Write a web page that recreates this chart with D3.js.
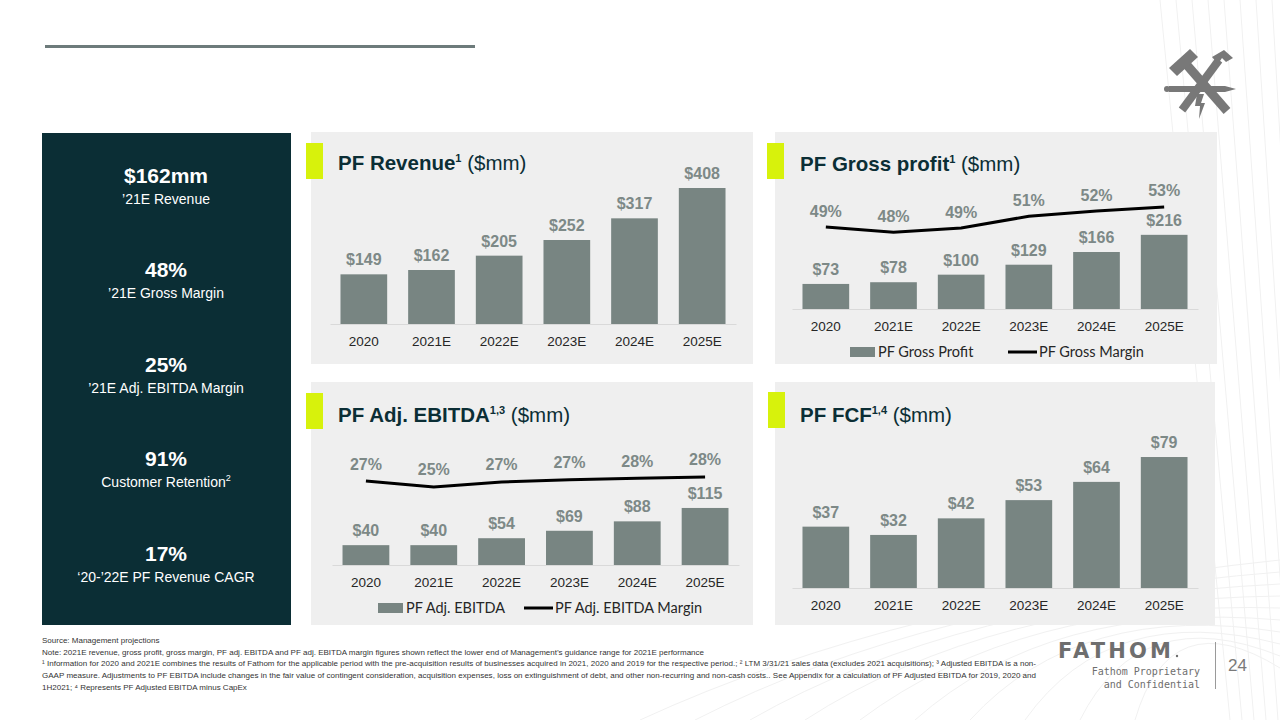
<!DOCTYPE html>
<html>
<head>
<meta charset="utf-8">
<script src="https://cdn.jsdelivr.net/npm/d3@7/dist/d3.min.js"></script>
<style>
  html, body { margin: 0; padding: 0; background: #ffffff; }
  svg { display: block; }
</style>
</head>
<body>
<svg id="chart" width="1280" height="720"></svg>
<script>
// ---------------- DATA ----------------
const years = ["2020", "2021E", "2022E", "2023E", "2024E", "2025E"];
const revenue = [149, 162, 205, 252, 317, 408];
const grossProfit = [73, 78, 100, 129, 166, 216];
const grossMargin = [49.2, 48.2, 49.0, 51.3, 52.3, 53.1];
const adjEbitda = [40, 40, 54, 69, 88, 115];
const adjEbitdaMargin = [26.9, 25.0, 26.6, 27.3, 27.8, 28.2];
const fcf = [37, 32, 42, 53, 64, 79];

const kpiValues = ["$162mm", "48%", "25%", "91%", "17%"];
const kpiLabels = ["\u201921E Revenue", "\u201921E Gross Margin", "\u201921E Adj. EBITDA Margin", "Customer Retention", "\u201820-\u201922E PF Revenue CAGR"];
const kpiSups = ["", "", "", "2", ""];

const footnotes = [
  "Source: Management projections",
  "Note: 2021E revenue, gross profit, gross margin, PF adj. EBITDA and PF adj. EBITDA margin figures shown reflect the lower end of Management\u2019s guidance range for 2021E performance",
  "\u00B9 Information for 2020 and 2021E combines the results of Fathom for the applicable period with the pre-acquisition results of businesses acquired in 2021, 2020 and 2019 for the respective period.;  \u00B2 LTM 3/31/21 sales data (excludes 2021 acquisitions); \u00B3 Adjusted EBITDA is a non-",
  "GAAP measure. Adjustments to PF EBITDA include changes in the fair value of contingent consideration, acquisition expenses, loss on extinguishment of debt, and other non-recurring and non-cash costs.. See Appendix for a calculation of PF Adjusted EBITDA for 2019, 2020 and",
  "1H2021; \u2074 Represents PF Adjusted EBITDA minus CapEx"
];

// ---------------- STYLE ----------------
const SANS = "'Liberation Sans', Arial, sans-serif";
const LEG = "Lato, 'Open Sans', sans-serif";
const DARK = "#0b2e35";
const BAR = "#788582";
const LABEL = "#7d8987";
const PANEL = "#efefef";
const ACCENT = "#d7f20c";

const svg = d3.select("#chart");

// faint background lines (decorative)
const deco = svg.append("g").attr("stroke", "#f1f1f1").attr("fill", "none").attr("stroke-width", 1);
for (let i = 0; i < 8; i++) {
  deco.append("path").attr("d", `M${1160 + i * 16},0 L${1230 + i * 12},720`);
}
for (let i = 0; i < 10; i++) {
  deco.append("path").attr("d", `M${640 + i * 55},720 Q${900 + i * 30},600 ${1280},${560 + i * 12}`);
}

// top rule
svg.append("rect").attr("x", 45).attr("y", 45).attr("width", 430).attr("height", 3).attr("fill", "#6d7b7b");

// tools icon
const icon = svg.append("g").attr("fill", "#787878").attr("stroke", "#787878");
icon.append("line").attr("x1", 1186).attr("y1", 64).attr("x2", 1227).attr("y2", 111).attr("stroke-width", 9);
icon.append("line").attr("x1", 1219).attr("y1", 60).attr("x2", 1182).attr("y2", 110).attr("stroke-width", 8);
icon.append("path").attr("stroke", "none").attr("d", "M1198,57 L1190,49 L1169,68 L1177,76 Z");
icon.append("path").attr("stroke", "none").attr("d", "M1212,57 L1224,50 L1233,58 L1226,62 L1222,58 L1218,64 Z");
icon.append("rect").attr("stroke", "none").attr("x", 1169).attr("y", 86).attr("width", 56).attr("height", 6);
icon.append("path").attr("stroke", "none").attr("d", "M1225,86 L1236,89 L1225,92 Z");
icon.append("circle").attr("stroke", "none").attr("cx", 1167).attr("cy", 89).attr("r", 3);
icon.append("path").attr("stroke", "none").attr("d", "M1197,94 L1204,94 L1201,103 L1205,103 L1199,119 L1200,106 L1195,106 Z");

// ---------------- KPI PANEL ----------------
svg.append("rect").attr("x", 42).attr("y", 133).attr("width", 249).attr("height", 492).attr("fill", DARK);
kpiValues.forEach((v, i) => {
  const by = 182.5 + i * 94.5;
  svg.append("text").attr("x", 166).attr("y", by).attr("text-anchor", "middle")
    .attr("font-family", SANS).attr("font-weight", "bold").attr("font-size", 21).attr("fill", "#ffffff").text(v);
  const t = svg.append("text").attr("x", 166).attr("y", by + 21).attr("text-anchor", "middle")
    .attr("font-family", SANS).attr("font-size", 14).attr("fill", "#ffffff").text(kpiLabels[i]);
  if (kpiSups[i]) t.append("tspan").attr("font-size", 9).attr("dy", -6).text(kpiSups[i]);
});

// ---------------- PANELS ----------------
function panel(x, y, w, h, ax, ay, titleBold, sup, titleRest, tx, ty) {
  svg.append("rect").attr("x", x).attr("y", y).attr("width", w).attr("height", h).attr("fill", PANEL);
  svg.append("rect").attr("x", ax).attr("y", ay).attr("width", 17).attr("height", 36).attr("fill", ACCENT);
  const t = svg.append("text").attr("x", tx).attr("y", ty).attr("font-family", SANS).attr("font-size", 20.5).attr("fill", DARK);
  t.append("tspan").attr("font-weight", "bold").text(titleBold);
  t.append("tspan").attr("font-size", 11).attr("font-weight", "bold").attr("dy", -8).text(sup);
  t.append("tspan").attr("dy", 8).text(" " + titleRest);
}
panel(311, 132, 442, 232, 306, 143, "PF Revenue", "1", "($mm)", 338, 170);
panel(775, 132, 442, 232, 767, 143, "PF Gross profit", "1", "($mm)", 800, 171);
panel(311, 382, 442, 243, 306, 393, "PF Adj. EBITDA", "1,3", "($mm)", 338, 422);
panel(775, 382, 440, 243, 768, 392, "PF FCF", "1,4", "($mm)", 800, 422);

// ---------------- CHARTS ----------------
function barChart(o) {
  const g = svg.append("g");
  const x = d3.scaleBand().domain(years).range(o.xRange).paddingInner(0.31).paddingOuter(0.155);
  const y = d3.scaleLinear().domain(o.yDomain).range(o.yRange);
  const bw = x.bandwidth();

  g.selectAll("rect.bar").data(o.values).join("rect")
    .attr("class", "bar")
    .attr("x", (d, i) => x(years[i]))
    .attr("y", d => y(d))
    .attr("width", bw)
    .attr("height", d => y(0) - y(d))
    .attr("fill", BAR);

  g.selectAll("text.val").data(o.values).join("text")
    .attr("class", "val")
    .attr("x", (d, i) => x(years[i]) + bw / 2)
    .attr("y", d => y(d) - 9)
    .attr("text-anchor", "middle")
    .attr("font-family", SANS).attr("font-weight", "bold").attr("font-size", 16)
    .attr("fill", LABEL)
    .text(d => "$" + d);

  const ax = g.append("g").attr("transform", `translate(0,${y(0)})`)
    .call(d3.axisBottom(x).tickSize(0).tickSizeOuter(0).tickPadding(12));
  ax.select(".domain").attr("stroke", "#d9d9d9").attr("stroke-width", 1);
  ax.selectAll("text").attr("font-family", SANS).attr("font-size", 13.5).attr("fill", "#262626");

  if (o.line) {
    const y2 = d3.scaleLinear().domain(o.lineDomain).range(o.lineRange);
    const line = d3.line().x((d, i) => x(years[i]) + bw / 2).y(d => y2(d));
    g.append("path").datum(o.line).attr("d", line)
      .attr("fill", "none").attr("stroke", "#000").attr("stroke-width", 3);
    g.selectAll("text.pct").data(o.line).join("text")
      .attr("class", "pct")
      .attr("x", (d, i) => x(years[i]) + bw / 2)
      .attr("y", d => y2(d) - o.pctOffset)
      .attr("text-anchor", "middle")
      .attr("font-family", SANS).attr("font-weight", "bold").attr("font-size", 16)
      .attr("fill", LABEL)
      .text(d => Math.round(d) + "%");
  }
  if (o.legend) {
    const L = o.legend;
    g.append("rect").attr("x", L.rx).attr("y", L.y - 5).attr("width", 25).attr("height", 10).attr("fill", BAR);
    g.append("text").attr("x", L.rx + 28).attr("y", L.y + 5).attr("font-family", LEG).attr("font-size", 14.5)
      .attr("fill", "#262626").text(L.barName);
    g.append("line").attr("x1", L.lx).attr("x2", L.lx + 29).attr("y1", L.y).attr("y2", L.y)
      .attr("stroke", "#000").attr("stroke-width", 3);
    g.append("text").attr("x", L.lx + 31).attr("y", L.y + 5).attr("font-family", LEG).attr("font-size", 14.5)
      .attr("fill", "#262626").text(L.lineName);
  }
}

barChart({ values: revenue, xRange: [330, 736], yDomain: [0, 450], yRange: [324, 174] });
barChart({ values: grossProfit, xRange: [792, 1198], yDomain: [0, 300], yRange: [309, 206],
  line: grossMargin, lineDomain: [40, 60], lineRange: [274.2, 171.6], pctOffset: 10.5,
  legend: { rx: 850, lx: 1008, y: 352, barName: "PF Gross Profit", lineName: "PF Gross Margin" } });
barChart({ values: adjEbitda, xRange: [332, 739], yDomain: [0, 150], yRange: [565, 490.6],
  line: adjEbitdaMargin, lineDomain: [20, 35], lineRange: [502.6, 455.75], pctOffset: 11.5,
  legend: { rx: 378, lx: 524, y: 608, barName: "PF Adj. EBITDA", lineName: "PF Adj. EBITDA Margin" } });
barChart({ values: fcf, xRange: [792, 1198], yDomain: [0, 100], yRange: [588, 422.2] });

// ---------------- FOOTNOTES ----------------
const fy = [643, 654.5, 666, 678, 689.5];
footnotes.forEach((t, i) => {
  const el = svg.append("text").attr("x", 42).attr("y", fy[i]).attr("font-family", SANS)
    .attr("font-size", 8).attr("fill", "#333").text(t);
  if (i === 2 || i === 3) el.attr("textLength", 994).attr("lengthAdjust", "spacing");
});

// ---------------- BRAND ----------------
svg.append("text").attr("x", 1058).attr("y", 658).attr("font-family", "'DejaVu Sans', sans-serif")
  .attr("font-weight", "bold").attr("font-size", 21).attr("letter-spacing", 2).attr("fill", "#6e6e6e")
  .attr("textLength", 115).attr("lengthAdjust", "spacing").text("FATHOM");
svg.append("circle").attr("cx", 1177).attr("cy", 656).attr("r", 1.2).attr("fill", "#6e6e6e");
svg.append("text").attr("x", 1200).attr("y", 675).attr("text-anchor", "end").attr("font-family", "'DejaVu Sans Mono', 'Liberation Mono', monospace")
  .attr("font-size", 10).attr("fill", "#6e6e6e").text("Fathom Proprietary");
svg.append("text").attr("x", 1200).attr("y", 688).attr("text-anchor", "end").attr("font-family", "'DejaVu Sans Mono', 'Liberation Mono', monospace")
  .attr("font-size", 10).attr("fill", "#6e6e6e").text("and Confidential");
svg.append("line").attr("x1", 1215.5).attr("x2", 1215.5).attr("y1", 642).attr("y2", 689).attr("stroke", "#9a9a9a").attr("stroke-width", 1);
svg.append("text").attr("x", 1228).attr("y", 671).attr("font-family", SANS).attr("font-size", 17).attr("fill", "#7a7a7a").text("24");
</script>
</body>
</html>
